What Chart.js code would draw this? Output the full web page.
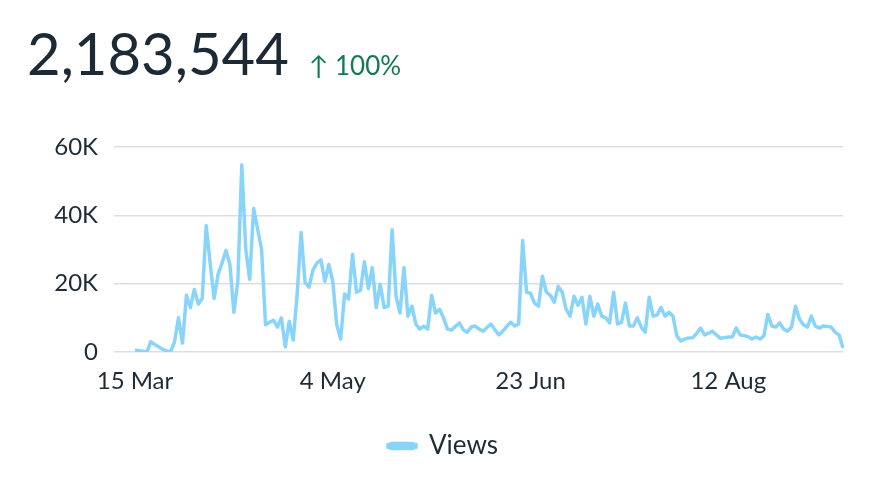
<!DOCTYPE html>
<html lang="en">
<head>
  <meta charset="utf-8">
  <title>Views</title>
  <script src="https://cdn.jsdelivr.net/npm/chart.js@4.4.3/dist/chart.umd.min.js"></script>
  <style>
    html, body { margin: 0; padding: 0; background: #fff; }
    .card {
      position: relative;
      width: 886px;
      height: 490px;
      font-family: Lato, "Noto Sans", sans-serif;
    }
    .total {
      position: absolute;
      left: 27px;
      top: 24px;
      display: flex;
      align-items: baseline;
      line-height: 1;
      z-index: 2;
    }
    .total .value { font-size: 58px; color: #1d2a35; }
    .total .change { font-size: 26px; color: #137a50; margin-left: 20px; }
    .chart-box { position: absolute; left: 0; top: 0; width: 886px; height: 490px; }
  </style>
</head>
<body>
  <div class="card">
    <div class="total">
      <span class="value">2,183,544</span>
      <span class="change">↑ 100%</span>
    </div>
    <div class="chart-box">
      <canvas id="viewsChart"></canvas>
    </div>
  </div>

  <script>
    // daily views, 15 Mar -> 10 Sep
    const views = [
      600, 400, 200, 0, 3000, 2200, 1500, 800, 300, 0,
      3000, 10000, 2600, 16600, 13000, 18300, 14000, 15700, 37000, 26000,
      15700, 22700, 26000, 29700, 25600, 11600, 20700, 54800, 30000, 21300,
      42000, 36000, 30000, 8000, 8700, 9300, 7300, 10000, 1500, 9000,
      3500, 17000, 35000, 20400, 19000, 24000, 26000, 27000, 20700, 25600,
      20700, 8000, 3800, 17000, 15500, 28600, 17500, 18000, 26400, 18600,
      24700, 13000, 19800, 13000, 13400, 35800, 16300, 11400, 24700, 10500,
      13400, 8200, 6700, 7600, 6700, 16600, 11400, 12500, 10000, 6700,
      6400, 7500, 8500, 6500, 5800, 7300, 7600, 6700, 6100, 7200,
      8200, 6500, 5000, 6100, 7500, 8700, 7600, 8200, 32600, 17500,
      17200, 14300, 13400, 22200, 17500, 16600, 14600, 19200, 17500, 12500,
      10500, 16300, 13700, 16000, 8200, 16300, 10500, 14000, 10500, 10000,
      8500, 17500, 8200, 8700, 14300, 7600, 7600, 10000, 7300, 5800,
      16000, 10500, 10800, 13000, 10500, 11600, 10500, 4700, 3200, 3800,
      4100, 4200, 5400, 7000, 5000, 5500, 6100, 5000, 4000, 4200,
      4400, 4400, 7000, 5000, 4800, 4500, 3800, 4400, 3800, 4700,
      11000, 7600, 7300, 8500, 6700, 6100, 7300, 13400, 9600, 8000,
      7300, 10500, 7600, 7000, 7600, 7500, 7300, 5800, 5000, 1200
    ];

    const monthNames = ['Jan', 'Feb', 'Mar', 'Apr', 'May', 'Jun', 'Jul', 'Aug', 'Sep', 'Oct', 'Nov', 'Dec'];
    const shownTicks = [0, 50, 100, 150];   // 15 Mar, 4 May, 23 Jun, 12 Aug
    const yTicks = [0, 20000, 40000, 60000];

    const days = [];
    for (let i = 0; i < views.length; i++) {
      const d = new Date(Date.UTC(2024, 2, 15 + i));
      days.push(d.getUTCDate() + ' ' + monthNames[d.getUTCMonth()]);
    }

    Chart.defaults.font.family = 'Lato, "Noto Sans", sans-serif';
    Chart.defaults.font.size = 24;
    Chart.defaults.color = '#1f2b36';

    const lineColor = '#89d4fb';

    new Chart(document.getElementById('viewsChart'), {
      type: 'line',
      data: {
        labels: days,
        datasets: [{
          label: 'Views',
          data: views,
          borderColor: lineColor,
          backgroundColor: lineColor,
          borderWidth: 3.5,
          pointRadius: 0,
          tension: 0,
          borderJoinStyle: 'round'
        }]
      },
      options: {
        responsive: true,
        maintainAspectRatio: false,
        animation: false,
        layout: { padding: { top: 147, right: 0, bottom: 21, left: 0 } },
        plugins: {
          tooltip: { enabled: false },
          legend: {
            position: 'bottom',
            labels: {
              font: { size: 26 },
              boxWidth: 28,
              boxHeight: 5,
              useBorderRadius: true,
              borderRadius: 4,
              padding: 10
            }
          }
        },
        scales: {
          x: {
            grid: { display: false, drawTicks: false },
            border: { display: false },
            afterFit: s => { s.height = 71; },
            ticks: {
              autoSkip: false,
              maxRotation: 0,
              padding: 15,
              callback: (v, i) => shownTicks.includes(i) ? days[i] : ''
            }
          },
          y: {
            min: 0,
            max: 60000,
            afterFit: s => { s.width = 135; },
            afterBuildTicks: s => { s.ticks = yTicks.map(v => ({ value: v })); },
            grid: { color: '#dedede', lineWidth: 1.5, tickLength: 21 },
            border: { display: false },
            ticks: {
              padding: 16,
              callback: v => v === 0 ? '0' : (v / 1000) + 'K'
            }
          },
          // empty right-hand gutter so the legend stays centred on the card
          gutter: {
            type: 'linear',
            position: 'right',
            afterFit: s => { s.width = 43; },
            grid: { display: false, drawTicks: false },
            border: { display: false },
            ticks: { display: false }
          }
        }
      }
    });
  </script>
</body>
</html>
